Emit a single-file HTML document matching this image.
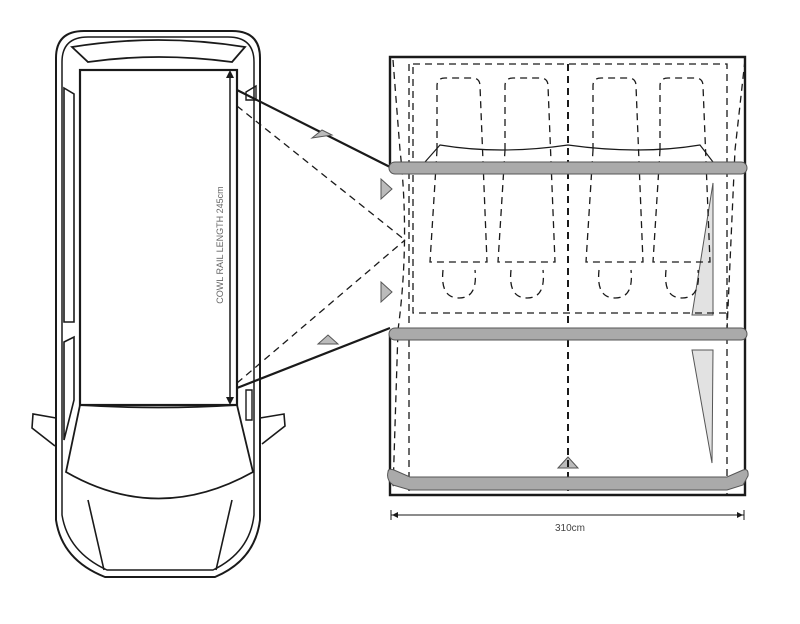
<!DOCTYPE html>
<html><head><style>html,body{margin:0;padding:0;background:#fff;}svg{display:block}</style></head>
<body>
<svg width="800" height="624" viewBox="0 0 800 624" xmlns="http://www.w3.org/2000/svg" fill="none" stroke="#1a1a1a" stroke-width="2">
<!-- CAR -->
<path d="M56 520 L56 58 Q56 31 84 31 L232 31 Q260 31 260 58 L260 520 Q255 560 215 577 L105 577 Q62 560 56 520 Z"/>
<path d="M62 515 L62 62 Q62 37 88 37 L228 37 Q254 37 254 62 L254 515 Q250 552 213 570 L107 570 Q68 552 62 515 Z" stroke-width="1.5"/>
<path d="M72 47 Q158 33 245 47 L232 62 Q158 52 88 62 Z" stroke-width="1.8"/>
<rect x="80" y="70" width="157" height="335" stroke-width="2.2"/>
<path d="M64 88 L74 94 L74 322 L64 322 Z" stroke-width="1.6"/>
<path d="M64 342 L74 337 L74 400 L64 440 Z" stroke-width="1.6"/>
<path d="M246 92 L256 86 L256 100 L246 100 Z" stroke-width="1.4"/>
<path d="M246 390 L252 390 L252 420 L246 420 Z" stroke-width="1.4"/>
<path d="M80 405 Q158 410 237 405 L253 472 Q158 525 66 472 Z" stroke-width="1.8"/>
<path d="M56 418 L33 414 L32 428 L55 446" stroke-width="1.6"/>
<path d="M260 418 L284 414 L285 426 L262 444" stroke-width="1.6"/>
<path d="M88 500 L104 570 M232 500 L216 570" stroke-width="1.6"/>
<!-- dimension -->
<line x1="230" y1="74" x2="230" y2="401" stroke-width="1.5"/>
<path d="M226 78 L230 70 L234 78 Z M226 397 L230 405 L234 397 Z" fill="#1a1a1a" stroke="none"/>
<text transform="translate(223,245) rotate(-90)" text-anchor="middle" font-family="Liberation Sans, sans-serif" font-size="9" fill="#666" stroke="none">COWL RAIL LENGTH 245cm</text>
<!-- connector -->
<line x1="237" y1="90" x2="390" y2="167" stroke-width="2.2"/>
<line x1="237" y1="388" x2="390" y2="328" stroke-width="2.2"/>
<g stroke-dasharray="7 5" stroke-width="1.3">
<line x1="237" y1="106" x2="405" y2="240"/>
<line x1="237" y1="383" x2="405" y2="240"/>
<path d="M393 60 L400 150 Q410 240 398 330 L393 490"/>
<path d="M745 60 L735 150 L727 330"/>
</g>
<g fill="#bbb" stroke="#555" stroke-width="1">
<path d="M312 138 L322 130 L332 135 Z"/>
<path d="M318 344 L328 335 L338 344 Z"/>
<path d="M381 179 L392 189 L381 199 Z"/>
<path d="M381 282 L392 292 L381 302 Z"/>
<path d="M558 468 L568 457 L578 468 Z"/>
<path d="M713 183 L713 315 L692 315 Z" fill="#e2e2e2"/>
<path d="M692 350 L713 350 L712 463 Z" fill="#e2e2e2"/>
</g>
<!-- TENT -->
<path d="M390 167 L390 57 L745 57 L745 495 L390 495 L390 334" stroke-width="2.4"/>
<g stroke-dasharray="7 5" stroke-width="1.3">
<rect x="413" y="64" width="314" height="249"/>
<line x1="409" y1="64" x2="409" y2="495"/>
<line x1="727" y1="313" x2="727" y2="495"/>
<line x1="568" y1="64" x2="568" y2="495" stroke-width="2"/>
<g id="pod">
<path d="M437 150 L437 86 Q437 78 445 78 L472 78 Q480 78 480 86 L487 262 L430 262 Z"/>
<path d="M443 270 Q440 298 459 298 Q478 298 475 270"/>
</g>
<use href="#pod" transform="translate(68,0)"/>
<use href="#pod" transform="translate(156,0)"/>
<use href="#pod" transform="translate(223,0)"/>
</g>
<path d="M425 162 L440 145 Q500 155 568 145 Q640 155 700 145 L713 162" stroke-width="1.2"/>
<g stroke="#555" stroke-width="1" fill="#aaa">
<rect x="389" y="162" width="358" height="12" rx="6"/>
<rect x="389" y="328" width="358" height="12" rx="6"/>
<path d="M388 472 Q388 468 394 470 L410 477 L727 477 L743 470 Q749 468 748 476 L743 485 L727 490 L410 490 L393 485 Q386 480 388 472 Z"/>
</g>
<!-- width dim -->
<line x1="391" y1="515" x2="744" y2="515" stroke-width="1"/>
<path d="M391 510 L391 520 M744 510 L744 520" stroke-width="1"/>
<path d="M392 515 L398 512 L398 518 Z M743 515 L737 512 L737 518 Z" fill="#1a1a1a" stroke="none"/>
<text x="570" y="531" text-anchor="middle" font-family="Liberation Sans, sans-serif" font-size="10" fill="#444" stroke="none">310cm</text>
</svg>
</body></html>
